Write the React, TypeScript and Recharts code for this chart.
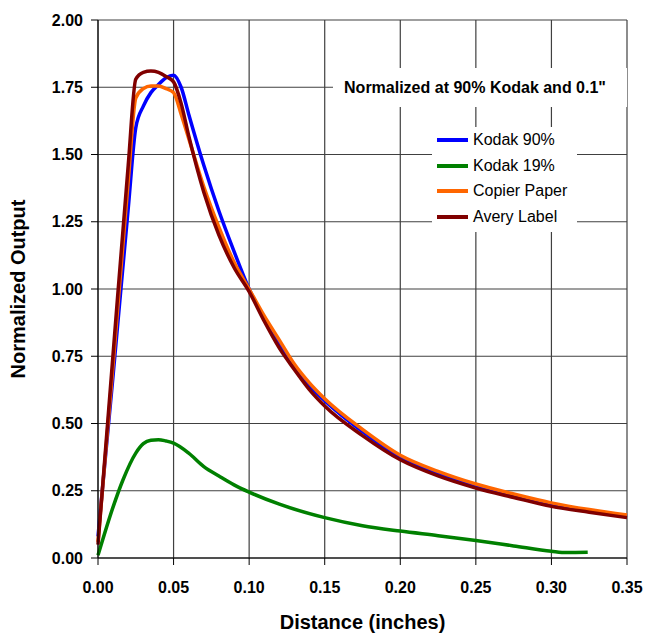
import { CartesianGrid, Line, LineChart, XAxis, YAxis } from "recharts";

const mainDistances = [
  0, 0.01, 0.02, 0.025, 0.03, 0.035, 0.04, 0.045, 0.05, 0.055, 0.06, 0.07, 0.08, 0.09, 0.1, 0.11,
  0.12, 0.13, 0.14, 0.15, 0.175, 0.2, 0.225, 0.25, 0.275, 0.3, 0.325, 0.35,
];
const kodak90 = [
  0.08, 0.68, 1.3, 1.6, 1.68, 1.73, 1.76, 1.785, 1.795, 1.75, 1.65, 1.46, 1.29, 1.14, 1.0, 0.89,
  0.8, 0.71, 0.64, 0.585, 0.47, 0.375, 0.315, 0.268, 0.232, 0.2, 0.175, 0.155,
];
const copierPaper = [
  0.06, 0.72, 1.4, 1.71, 1.745, 1.755, 1.755, 1.745, 1.73, 1.65, 1.56, 1.38, 1.23, 1.1, 1.0, 0.9,
  0.81, 0.72, 0.65, 0.592, 0.478, 0.382, 0.322, 0.275, 0.238, 0.205, 0.18, 0.16,
];
const averyLabel = [
  0.05, 0.76, 1.46, 1.78, 1.805, 1.81, 1.805, 1.79, 1.77, 1.69, 1.57, 1.36, 1.2, 1.08, 0.99, 0.88,
  0.78, 0.7, 0.625, 0.565, 0.455, 0.365, 0.305, 0.26, 0.225, 0.192, 0.17, 0.15,
];

const kodak19Distances = [
  0, 0.01, 0.0165, 0.025, 0.03, 0.035, 0.04, 0.045, 0.05, 0.06, 0.07, 0.08, 0.09, 0.1, 0.12, 0.15,
  0.175, 0.2, 0.225, 0.25, 0.275, 0.3, 0.31, 0.324,
];
const kodak19 = [
  0.01, 0.19, 0.29, 0.39, 0.425, 0.438, 0.44, 0.435, 0.427, 0.39, 0.34, 0.305, 0.272, 0.245, 0.2,
  0.15, 0.12, 0.1, 0.083, 0.065, 0.045, 0.025, 0.02, 0.021,
];

const yTicks = [0, 0.25, 0.5, 0.75, 1, 1.25, 1.5, 1.75, 2];
const xTicks = [0, 0.05, 0.1, 0.15, 0.2, 0.25, 0.3, 0.35];

const toPoints = (xs: number[], ys: number[]) => xs.map((x, i) => ({ x, y: ys[i] }));

const series = [
  { name: "Kodak 90%", color: "#0000ff", data: toPoints(mainDistances, kodak90) },
  { name: "Kodak 19%", color: "#008000", data: toPoints(kodak19Distances, kodak19) },
  { name: "Copier Paper", color: "#ff6600", data: toPoints(mainDistances, copierPaper) },
  { name: "Avery Label", color: "#800000", data: toPoints(mainDistances, averyLabel) },
];

const font = "Arial, 'Liberation Sans', sans-serif";

export default function App() {
  // fixed to the window so the page never overflows and gets a scrollbar
  return (
    <div style={{ position: "fixed", left: 0, top: 0, width: 645, height: 635, background: "#fff" }}>
      <LineChart width={645} height={635} margin={{ top: 20, right: 18, left: 8, bottom: 0 }}>
        <CartesianGrid stroke="#404040" strokeWidth={1.2} />
        <XAxis
          type="number"
          dataKey="x"
          domain={[0, 0.35]}
          ticks={xTicks}
          interval={0}
          tickFormatter={(v: number) => v.toFixed(2)}
          tick={{ fill: "#000", fontSize: 16, fontWeight: "bold", fontFamily: font }}
          tickSize={7}
          tickMargin={17}
          stroke="#000"
          height={77}
          label={{
            value: "Distance (inches)",
            position: "insideBottom",
            offset: 6,
            fill: "#000",
            fontSize: 20,
            fontWeight: "bold",
            fontFamily: font,
          }}
        />
        <YAxis
          type="number"
          domain={[0, 2]}
          ticks={yTicks}
          interval={0}
          tickFormatter={(v: number) => v.toFixed(2)}
          tick={{ fill: "#000", fontSize: 16, fontWeight: "bold", fontFamily: font }}
          tickSize={7}
          tickMargin={8}
          stroke="#000"
          width={90}
          label={{
            value: "Normalized Output",
            angle: -90,
            position: "insideLeft",
            offset: 10,
            style: { textAnchor: "middle" },
            fill: "#000",
            fontSize: 20,
            fontWeight: "bold",
            fontFamily: font,
          }}
        />
        {series.map((s) => (
          <Line
            key={s.name}
            data={s.data}
            dataKey="y"
            name={s.name}
            type="monotone"
            stroke={s.color}
            strokeWidth={3.5}
            dot={false}
            isAnimationActive={false}
          />
        ))}
      </LineChart>
      <div
        style={{
          position: "absolute",
          left: 333,
          top: 68,
          width: 294,
          height: 39,
          background: "#fff",
          fontFamily: font,
          fontSize: 16,
          fontWeight: "bold",
          color: "#000",
          display: "flex",
          alignItems: "center",
          justifyContent: "center",
          boxSizing: "border-box",
          paddingRight: 10,
          whiteSpace: "nowrap",
        }}
      >
        Normalized at 90% Kodak and 0.1"
      </div>
      <div
        style={{
          position: "absolute",
          left: 432,
          top: 127,
          width: 145,
          height: 105,
          background: "#fff",
          fontFamily: font,
          fontSize: 16,
          color: "#000",
          boxSizing: "border-box",
          paddingLeft: 5,
        }}
      >
        {series.map((s) => (
          <div key={s.name} style={{ display: "flex", alignItems: "center", height: 25.7 }}>
            <span
              style={{
                display: "inline-block",
                width: 31,
                height: 4,
                background: s.color,
                marginRight: 5,
              }}
            />
            {s.name}
          </div>
        ))}
      </div>
    </div>
  );
}
